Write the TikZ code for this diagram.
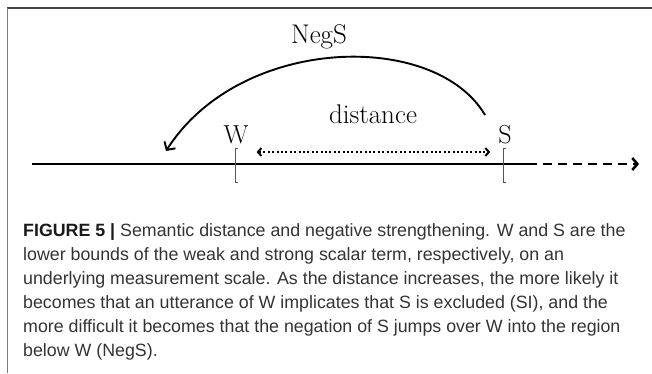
\documentclass[tikz,border=0pt]{standalone}
\usepackage{fontspec}
\newfontfamily\capfont{Liberation Sans}
\usetikzlibrary{arrows.meta}
\definecolor{captxt}{HTML}{333333}
\definecolor{capbold}{HTML}{1A1A1A}
\definecolor{frametop}{HTML}{444444}
\definecolor{frameleft}{HTML}{7A7A7A}
\definecolor{brk}{HTML}{555555}
\begin{document}
\begin{tikzpicture}[x=1pt,y=-1pt,
  lbl/.style={font=\fontsize{26}{28}\selectfont, inner sep=0pt, anchor=base},
  biglbl/.style={font=\fontsize{27}{29}\selectfont, inner sep=0pt, anchor=base},
  capline/.style={font=\capfont\fontsize{17.8}{24}\selectfont, text=captxt, inner sep=0pt, anchor=base west},
  mainline/.style={line width=2.8pt, black},
  dashpart/.style={line width=2.8pt, dash pattern=on 9pt off 6pt, -{Straight Barb[length=5pt,width=12pt,line width=2.6pt]}},
  distarrow/.style={line width=2pt, dash pattern=on 2pt off 2.4pt, {Straight Barb[length=3.5pt,width=8pt,line width=2pt]}-{Straight Barb[length=3.5pt,width=8pt,line width=2pt]}},
  jump/.style={line width=1.9pt, -{Straight Barb[length=6pt,width=13pt,line width=1.9pt]}},
  bracket/.style={line width=0.9pt, brk},
  frame/.style={line width=1.5pt}
]
\useasboundingbox (0,0) rectangle (652,373);
% frame
\draw[frame, frametop] (7,8) -- (652,8);
\draw[frame, frameleft] (7.5,8) -- (7.5,373);

% scale line
\coordinate (L0) at (32,164);
\coordinate (L1) at (537,164);
\coordinate (L2) at (543,164);
\coordinate (L3) at (639,164);
\draw[mainline] (L0) -- (L1);
\draw[dashpart] (L2) -- (L3);

% brackets
\coordinate (bw) at (235,164);
\coordinate (bs) at (503,164);
\draw[bracket] ([xshift=3pt,yshift=16pt]bw) -- ([yshift=16pt]bw) -- ([yshift=-18pt]bw) -- ([xshift=3pt,yshift=-18pt]bw);
\draw[bracket] ([xshift=3pt,yshift=16pt]bs) -- ([yshift=16pt]bs) -- ([yshift=-18pt]bs) -- ([xshift=3pt,yshift=-18pt]bs);

% labels
\node[lbl] (W) at (236,143) {W};
\node[lbl] (S) at (505,143) {S};
\node[biglbl] (dist) at (373,123) {distance};
\node[biglbl] (negs) at (319,43) {NegS};

% distance arrow
\draw[distarrow] ([xshift=8pt,yshift=-9pt]W.base east) -- ([xshift=-8pt,yshift=-9pt]S.base west);

% NegS jump
\coordinate (js) at (485,115);
\coordinate (je) at (166,151);
\draw[jump] (js) .. controls (435,30) and (240,35) .. (je);

% caption
\node[capline] (c1) at (23,236) {{\bfseries\color{capbold}FIGURE 5 |} Semantic distance and negative strengthening. W and S are the};
\node[capline] (c2) at (23,260) {lower bounds of the weak and strong scalar term, respectively, on an};
\node[capline] (c3) at (23,284) {underlying measurement scale. As the distance increases, the more likely it};
\node[capline] (c4) at (23,308) {becomes that an utterance of W implicates that S is excluded (SI), and the};
\node[capline] (c5) at (23,332) {more difficult it becomes that the negation of S jumps over W into the region};
\node[capline] (c6) at (23,356) {below W (NegS).};
\end{tikzpicture}
\end{document}
